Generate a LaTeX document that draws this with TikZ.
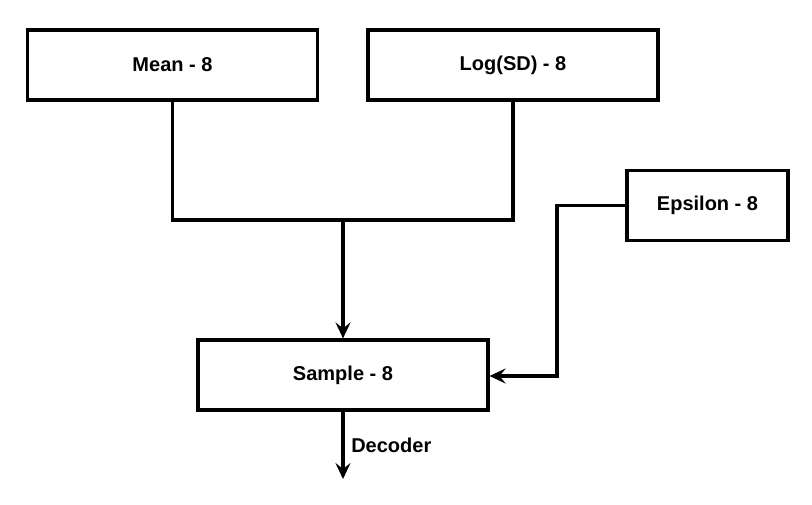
\documentclass[tikz,border=0pt]{standalone}
\usepackage{fontspec}
\setmainfont{Liberation Sans}
\usetikzlibrary{arrows.meta}

\begin{document}
\begin{tikzpicture}[x=0.5pt, y=-0.5pt, line width=1.6pt,
  every node/.style={font=\fontsize{10}{12}\selectfont\bfseries, align=center},
  block/.style={draw, minimum width=145pt, minimum height=35pt, inner sep=0pt},
  arr/.style={-{Stealth[length=8pt, width=7.5pt, inset=3pt]}}]
  \useasboundingbox (0,0) rectangle (812,504);
  % Boxes
  \node[block] (mean) at (172.5,65) {Mean - 8};
  \node[block] (logsd) at (513,65) {Log(SD) - 8};
  \node[block, minimum width=80.5pt] (eps) at (707.5,205.5) {Epsilon - 8};
  \node[block] (sample) at (343,375) {Sample - 8};
  % Joins
  \coordinate (join) at (343,220);
  \coordinate (bend) at (557,376);
  \coordinate (out) at (343,479);
  % Lines
  \draw (mean.south) |- (join) -| (logsd.south);
  \draw[arr] (join) -- (sample.north);
  \draw[arr] (eps.west) -| (bend) -- (sample.east |- bend);
  \draw[arr] (sample.south) -- node[right] {Decoder} (out);
\end{tikzpicture}
\end{document}
